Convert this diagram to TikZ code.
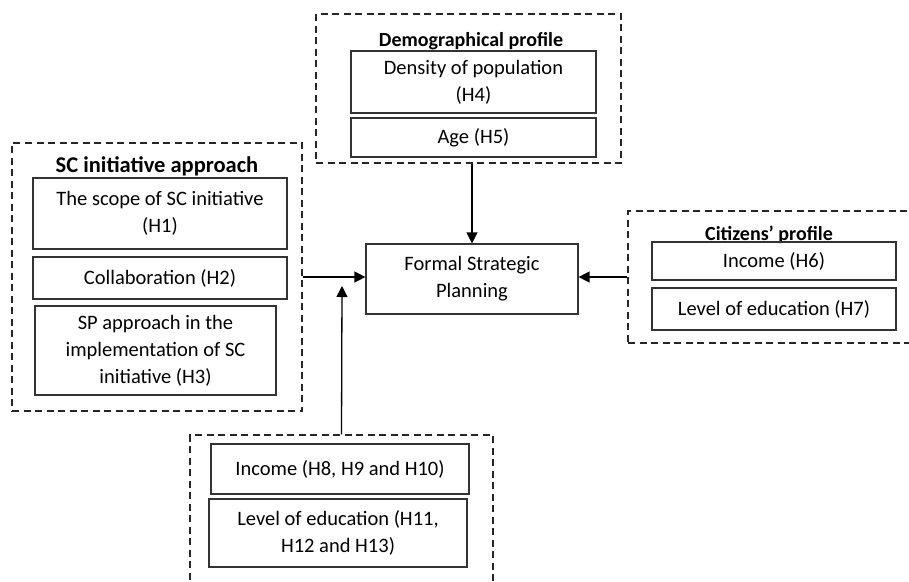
\documentclass[tikz,border=0pt]{standalone}
\usepackage{fontspec}
\setmainfont{Carlito}
\usetikzlibrary{arrows.meta}

\tikzset{
  group/.style={draw=black!85,line width=1.3pt,dash pattern=on 7pt off 4.5pt,inner sep=0pt},
  item/.style={draw=black!80,line width=1.2pt,align=center,inner sep=2pt,font=\fontsize{20.5}{27}\selectfont},
  grouptitle/.style={font=\fontsize{20}{22}\selectfont\bfseries},
  link/.style={line width=1.3pt,-{Triangle[length=11pt,width=11pt]}}
}

\begin{document}
\begin{tikzpicture}[x=1pt,y=-1pt]
        \clip (0,0) rectangle (909,581);

        % groups
        \node[group,minimum width=305,minimum height=149] (demo) at (468.5,88.5) {};
        \node[group,minimum width=290,minimum height=268] (sc) at (157,277) {};
        \node[group,minimum width=292,minimum height=132] (cit) at (774,277) {};
        \node[group,minimum width=303,minimum height=165] (bot) at (341.5,517.5) {};

        \node[grouptitle] (demotitle) at (471,41) {Demographical profile};
        \node[grouptitle,font=\fontsize{22.5}{24}\selectfont\bfseries] (sctitle) at (157,166) {SC initiative approach};
        \node[grouptitle] (cittitle) at (769,234.5) {Citizens’ profile};

        % items
        \node[item,minimum width=245,minimum height=62] (density) at (473.5,82) {Density of population\\(H4)};
        \node[item,minimum width=245,minimum height=39] (age) at (473.5,137.5) {Age (H5)};

        \node[item,minimum width=254,minimum height=71] (scope) at (160,213.5) {The scope of SC initiative\\(H1)};
        \node[item,minimum width=254,minimum height=42] (collab) at (160,278) {Collaboration (H2)};
        \node[item,minimum width=241,minimum height=89] (spappr) at (155.5,350.5) {SP approach in the\\implementation of SC\\initiative (H3)};

        \node[item,minimum width=244,minimum height=38] (income) at (774,261) {Income (H6)};
        \node[item,minimum width=244,minimum height=42] (educ) at (774,309) {Level of education (H7)};

        \node[item,minimum width=258,minimum height=50] (incomeb) at (340,469) {Income (H8, H9 and H10)};
        \node[item,minimum width=258,minimum height=68] (educb) at (338,533) {Level of education (H11,\\H12 and H13)};

        \node[item,minimum width=212,minimum height=70] (fsp) at (472,279) {Formal Strategic\\Planning};

        % links
        \coordinate (join) at (342,286);
        \draw[link] (fsp.north |- demo.south) -- (fsp.north);
        \draw[link] (sc.east) -- (sc.east -| fsp.west);
        \draw[link] (cit.west) -- (cit.west -| fsp.east);
        \draw[link] (bot.north) -- (join);
      \end{tikzpicture}
\end{document}
